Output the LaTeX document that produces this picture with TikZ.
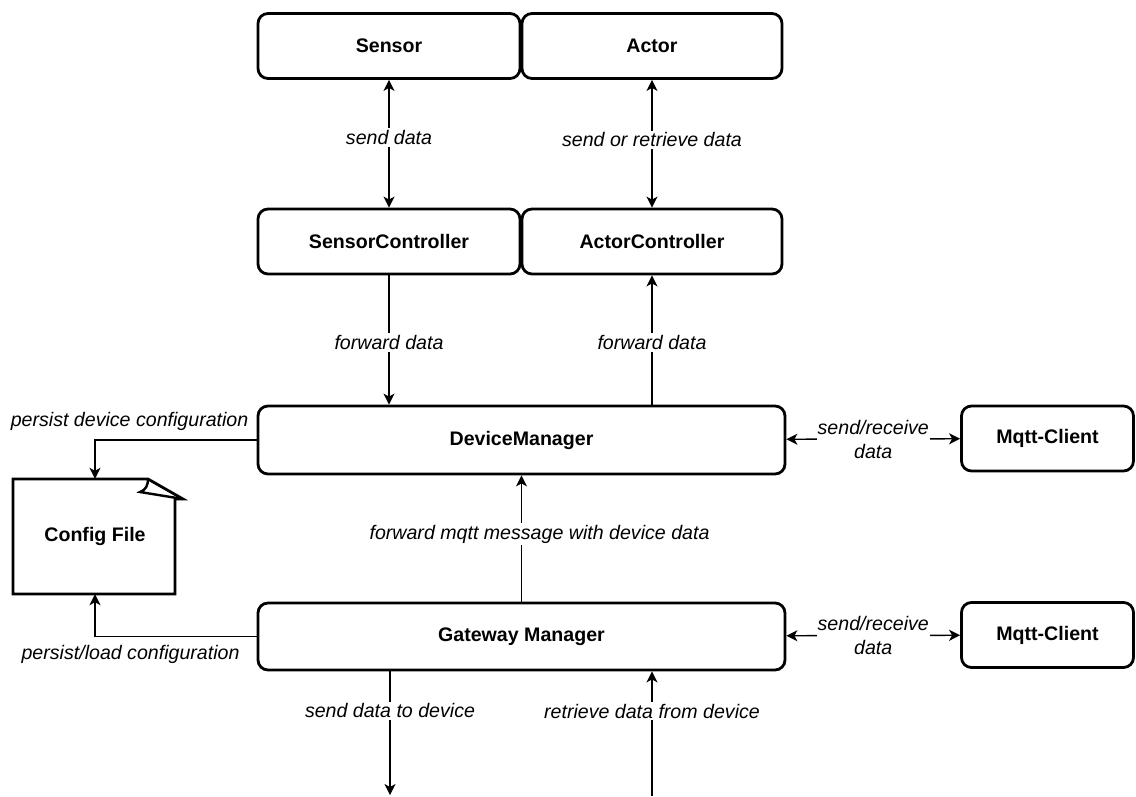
\documentclass[tikz,border=0pt]{standalone}
\usepackage{fontspec}
\setmainfont{Liberation Sans}
\usetikzlibrary{arrows.meta}
\newcommand\figfont{\fontsize{19.6}{24}\selectfont}
\tikzstyle{block}=[draw,line width=2.8pt,rounded corners=10pt,align=center,font=\figfont\bfseries,inner sep=0pt]
\tikzstyle{lbl}=[fill=white,font=\figfont\itshape,inner sep=2pt,align=center]
\tikzstyle{note}=[font=\figfont\itshape,inner sep=0pt]
\tikzstyle{link}=[line width=1.4pt]

\begin{document}
\begin{tikzpicture}[x=1pt,y=-1pt,>={Stealth[length=11pt,width=11pt,inset=3pt]}]
                    \useasboundingbox (0,0) rectangle (1136,796);

                    \node (sensor) at (389,46) [block,minimum width=262pt,minimum height=65pt] {Sensor};
                    \node (actor) at (652,46) [block,minimum width=260pt,minimum height=65pt] {Actor};
                    \node (sctrl) at (389,241.5) [block,minimum width=262pt,minimum height=65pt] {SensorController};
                    \node (actl) at (652,241.5) [block,minimum width=260pt,minimum height=65pt] {ActorController};

                    \node (dm) at (521.5,440) [block,minimum width=527pt,minimum height=68pt] {DeviceManager};
                    \node (gw) at (521.5,636.5) [block,minimum width=527pt,minimum height=67pt] {Gateway Manager};

                    \node (mq1) at (1047.5,438.5) [block,minimum width=172pt,minimum height=65pt] {Mqtt-Client};
                    \node (mq2) at (1047.5,635) [block,minimum width=172pt,minimum height=65pt] {Mqtt-Client};

                    % config file with folded corner
                    \node (cfg) at (95,536.5) [minimum width=162pt,minimum height=115pt,font=\figfont\bfseries] {Config File};
                    \draw [line width=2.8pt,line join=miter] (13,479) -- (148,479) -- (183,499) -- (175,499) -- (175,594) -- (13,594) -- cycle;
                    \draw [line width=2.4pt] (183,499) -- (140,492) .. controls (146,490) and (148,485) .. (148,479);

                    \coordinate (out) at (390,795);
                    \coordinate (in) at (652,796);

                    \draw [link,<->] (sensor) -- node[lbl,pos=0.45] {send data} (sctrl);
                    \draw [link,<->] (actor) -- node[lbl,pos=0.47] {send or retrieve data} (actl);

                    \draw [link,->] (sctrl) -- node[lbl,pos=0.52] {forward data} (sctrl.south |- dm.north);
                    \draw [link,->] (dm.north -| actl.south) -- node[lbl,pos=0.48] {forward data} (actl);

                    \draw [link,->] (gw) -- node[lbl,pos=0.535,xshift=18pt] {forward mqtt message with device data} (dm);

                    \draw [link,<->] (dm) -- node[lbl,inner sep=1pt] {send/receive\\data} (mq1);
                    \draw [link,<->] (gw) -- node[lbl,inner sep=1pt] {send/receive\\data} (mq2);

                    \draw [link,->] (dm.west) -| node[note,pos=0.393,above=9pt] {persist device configuration} (cfg.north);
                    \draw [link,->] (gw.west) -| node[note,pos=0.39,below=8pt] {persist/load configuration} (cfg.south);

                    \draw [link,->] (gw.south -| out) -- node[lbl,pos=0.32] {send data to device} (out);
                    \draw [link,->] (in) -- node[lbl,pos=0.68] {retrieve data from device} (in |- gw.south);
                \end{tikzpicture}
\end{document}
